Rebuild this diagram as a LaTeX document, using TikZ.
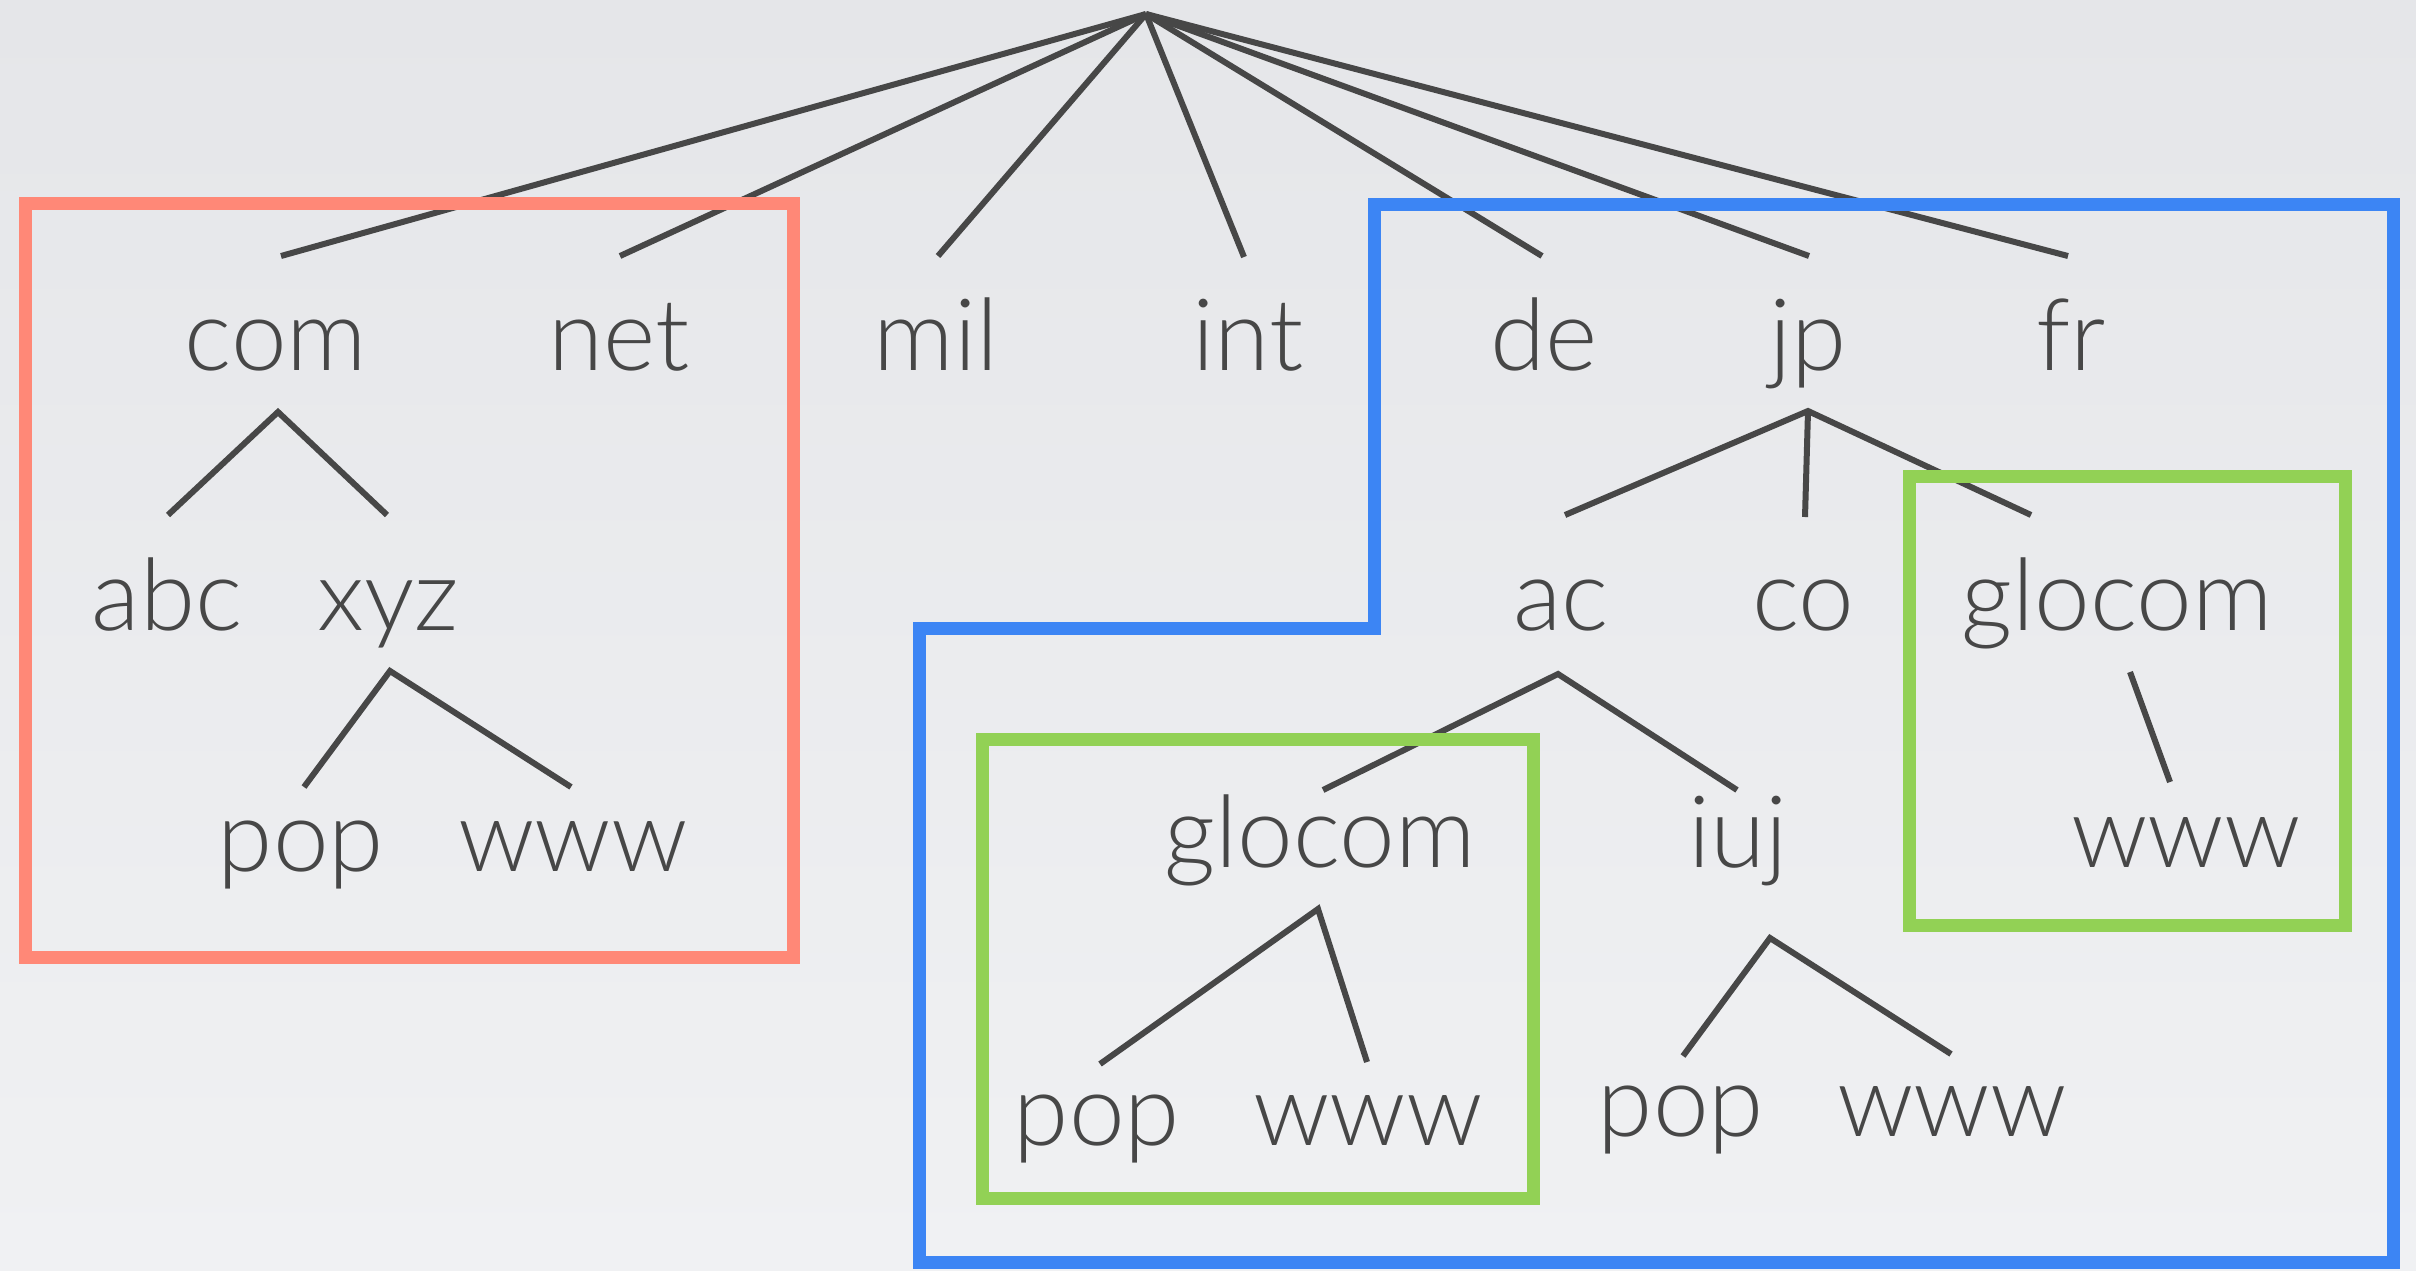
\documentclass[tikz,border=0pt]{standalone}
\usepackage{fontspec}
\setmainfont{Lato Light}
\definecolor{bgA}{HTML}{E5E6E9}
\definecolor{bgB}{HTML}{F0F1F3}
\definecolor{ink}{HTML}{474747}
\definecolor{redc}{HTML}{FF8877}
\definecolor{bluec}{HTML}{3C85F4}
\definecolor{greenc}{HTML}{92D155}
\begin{document}
\begin{tikzpicture}[x=1pt,y=-1pt,
  lbl/.style={text=ink, font=\fontsize{100}{120}\selectfont, anchor=base, inner sep=0pt},
  edge/.style={draw=ink, line width=6pt},
  frame/.style={line width=13pt, line join=miter}]
\useasboundingbox (0,0) rectangle (2416,1270);
\shade[top color=bgA, bottom color=bgB] (0,0) rectangle (2416,1270);

% labels
\node[lbl] (com) at (276,370) {com};
\node[lbl] (net) at (619,370) {net};
\node[lbl] (mil) at (936,370) {mil};
\node[lbl] (int) at (1248,370) {int};
\node[lbl] (de) at (1544,370) {de};
\node[lbl] (jp) at (1808,370) {jp};
\node[lbl] (fr) at (2071,370) {fr};
\node[lbl] (abc) at (167,630) {abc};
\node[lbl] (xyz) at (388,630) {xyz};
\node[lbl] (ac) at (1561,630) {ac};
\node[lbl] (co) at (1803,630) {co};
\node[lbl] (glocomR) at (2117,630) {glocom};
\node[lbl] (pop1) at (301,871) {pop};
\node[lbl] (www1) at (573,871) {www};
\node[lbl] (glocomL) at (1320,867) {glocom};
\node[lbl] (iuj) at (1738,867) {iuj};
\node[lbl] (wwwR) at (2186,867) {www};
\node[lbl] (pop2) at (1097,1145) {pop};
\node[lbl] (www2) at (1368,1145) {www};
\node[lbl] (pop3) at (1681,1136) {pop};
\node[lbl] (www3) at (1952,1136) {www};

% connector end points
\coordinate (root) at (1146,14);
\coordinate (tcom) at (281,256);
\coordinate (tnet) at (620,256);
\coordinate (tmil) at (938,256);
\coordinate (tint) at (1244,257);
\coordinate (tde) at (1542,256);
\coordinate (tjp) at (1809,256);
\coordinate (tfr) at (2068,256);
\coordinate (comA) at (278,412);
\coordinate (abcT) at (168,515);
\coordinate (xyzT) at (387,515);
\coordinate (xyzA) at (390,671);
\coordinate (pop1T) at (304,787);
\coordinate (www1T) at (571,787);
\coordinate (jpA) at (1808,411);
\coordinate (acT) at (1565,515);
\coordinate (coT) at (1805,517);
\coordinate (glocomRT) at (2031,515);
\coordinate (acA) at (1558,674);
\coordinate (glocomLT) at (1323,790);
\coordinate (iujT) at (1737,790);
\coordinate (glocomRA) at (2130,672);
\coordinate (wwwRT) at (2170,782);
\coordinate (glocomLA) at (1318,909);
\coordinate (pop2T) at (1100,1064);
\coordinate (www2T) at (1367,1062);
\coordinate (iujA) at (1770,938);
\coordinate (pop3T) at (1683,1056);
\coordinate (www3T) at (1951,1054);

% connectors
\foreach \t in {tcom,tnet,tmil,tint,tde,tjp,tfr} \draw[edge] (root) -- (\t);
\draw[edge] (abcT) -- (comA) -- (xyzT);
\draw[edge] (pop1T) -- (xyzA) -- (www1T);
\draw[edge] (acT) -- (jpA) -- (glocomRT);
\draw[edge] (jpA) -- (coT);
\draw[edge] (glocomLT) -- (acA) -- (iujT);
\draw[edge] (glocomRA) -- (wwwRT);
\draw[edge] (pop2T) -- (glocomLA) -- (www2T);
\draw[edge] (pop3T) -- (iujA) -- (www3T);

% frames
\draw[frame, draw=redc] (25,203) rectangle (793,957);
\draw[frame, draw=bluec] (1374,204) -- (2393,204) -- (2393,1262) -- (919,1262) -- (919,628) -- (1374,628) -- cycle;
\draw[frame, draw=greenc] (1909,476) rectangle (2345,925);
\draw[frame, draw=greenc] (982,739) rectangle (1533,1198);
\end{tikzpicture}
\end{document}
